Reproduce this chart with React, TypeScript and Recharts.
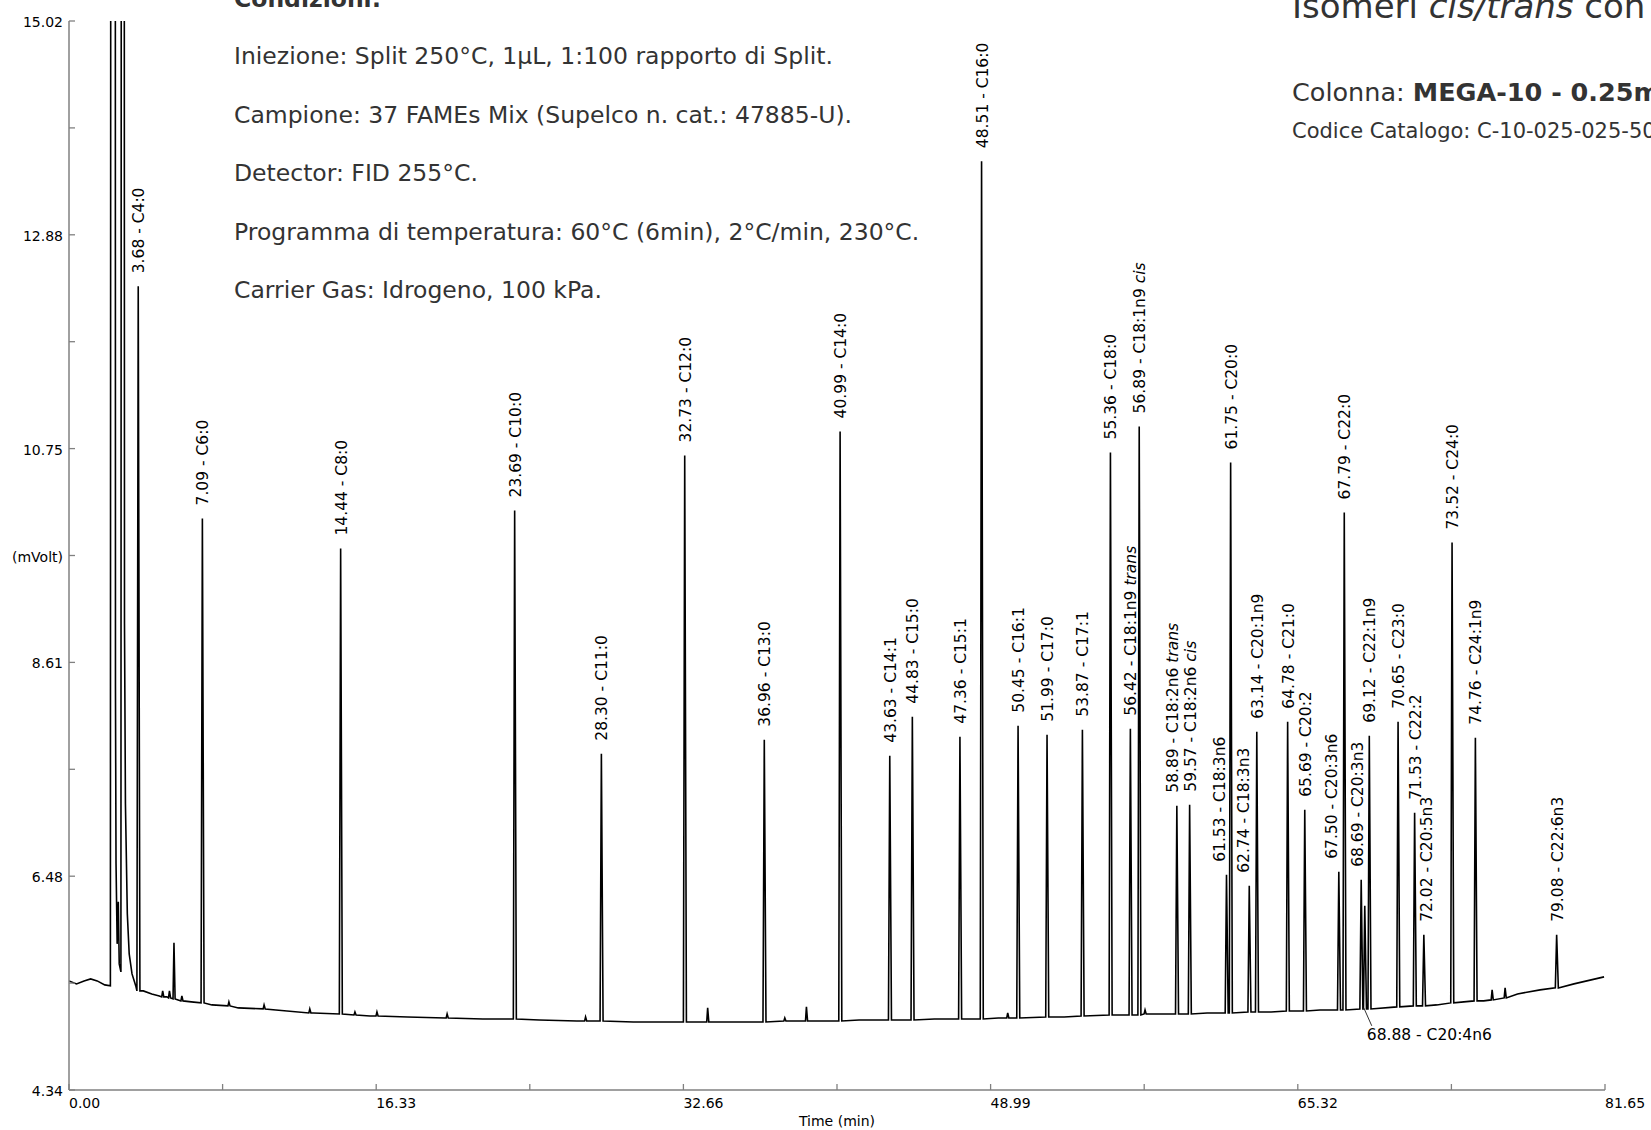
import React from 'react';
import { ComposedChart, Line, Scatter, XAxis, YAxis } from 'recharts';

const W = 1651;
const H = 1130;
const AXIS = '#808080';
const FONT = '"DejaVu Sans", Verdana, sans-serif';

// ---- axis ticks ----
const xTickValues = [0, 8.165, 16.33, 24.495, 32.66, 40.825, 48.99, 57.155, 65.32, 73.485, 81.65];
const xTickLabels = ['0.00', '', '16.33', '', '32.66', '', '48.99', '', '65.32', '', '81.65'];
const yTickValues = [4.34, 5.408, 6.476, 7.544, 8.612, 9.68, 10.748, 11.816, 12.884, 13.952, 15.02];
const yTickLabels = ['4.34', '', '6.48', '', '8.61', '(mVolt)', '10.75', '', '12.88', '', '15.02'];

// ---- solvent front region (min, mV) ----
const solventTime = [0.0, 0.4, 0.8, 1.15, 1.5, 1.9, 2.2, 2.26, 2.44, 2.47, 2.5, 2.56, 2.62, 2.67, 2.76, 2.82, 2.9, 2.95, 3.0, 3.1, 3.2, 3.35, 3.55];
const solventSignal = [5.43, 5.4, 5.43, 5.45, 5.43, 5.39, 5.38, 40, 40, 8.37, 6.6, 5.8, 6.22, 5.6, 5.52, 40, 40, 9.0, 7.2, 6.1, 5.7, 5.5, 5.38];

// ---- baseline readings (min, mV) ----
const baselineTime = [3.95, 4.4, 4.8, 5.2, 5.8, 6.5, 7.6, 9.0, 11, 13, 16, 18, 20, 22, 25, 27, 30, 34.5, 38.6, 42, 46, 49.4, 52.9, 57.8, 60.5, 63.9, 66.5, 72.7, 75.2, 77.0, 78.2, 80.0, 81.6];
const baselineSignal = [5.33, 5.3, 5.28, 5.27, 5.24, 5.22, 5.19, 5.16, 5.14, 5.11, 5.08, 5.07, 5.06, 5.05, 5.04, 5.03, 5.02, 5.02, 5.03, 5.04, 5.05, 5.06, 5.07, 5.1, 5.11, 5.12, 5.14, 5.19, 5.23, 5.3, 5.34, 5.4, 5.47];

// ---- labelled peaks ----
const peakTime = [3.68, 7.09, 14.44, 23.69, 28.30, 32.73, 36.96, 40.99, 43.63, 44.83, 47.36, 48.51, 50.45, 51.99, 53.87, 55.36, 56.42, 56.89, 58.89, 59.57, 61.53, 61.75, 62.74, 63.14, 64.78, 65.69, 67.50, 67.79, 68.69, 68.88, 69.12, 70.65, 71.53, 72.02, 73.52, 74.76, 79.08];
const peakApex = [12.37, 10.05, 9.75, 10.13, 7.70, 10.68, 7.84, 10.92, 7.68, 8.07, 7.87, 13.62, 7.98, 7.89, 7.94, 10.71, 7.95, 10.97, 7.18, 7.19, 6.49, 10.61, 6.38, 7.92, 8.02, 7.14, 6.52, 10.11, 6.44, 6.18, 7.88, 8.02, 7.11, 5.89, 9.81, 7.86, 5.89];
const peakBase = [5.33, 5.21, 5.10, 5.05, 5.03, 5.02, 5.02, 5.03, 5.04, 5.04, 5.05, 5.05, 5.06, 5.07, 5.08, 5.09, 5.09, 5.09, 5.10, 5.10, 5.11, 5.11, 5.12, 5.12, 5.13, 5.13, 5.14, 5.14, 5.15, 5.15, 5.15, 5.17, 5.18, 5.18, 5.21, 5.23, 5.36];
const peakName = ['3.68 - C4:0', '7.09 - C6:0', '14.44 - C8:0', '23.69 - C10:0', '28.30 - C11:0', '32.73 - C12:0', '36.96 - C13:0', '40.99 - C14:0', '43.63 - C14:1', '44.83 - C15:0', '47.36 - C15:1', '48.51 - C16:0', '50.45 - C16:1', '51.99 - C17:0', '53.87 - C17:1', '55.36 - C18:0', '56.42 - C18:1n9', '56.89 - C18:1n9', '58.89 - C18:2n6', '59.57 - C18:2n6', '61.53 - C18:3n6', '61.75 - C20:0', '62.74 - C18:3n3', '63.14 - C20:1n9', '64.78 - C21:0', '65.69 - C20:2', '67.50 - C20:3n6', '67.79 - C22:0', '68.69 - C20:3n3', '68.88 - C20:4n6', '69.12 - C22:1n9', '70.65 - C23:0', '71.53 - C22:2', '72.02 - C20:5n3', '73.52 - C24:0', '74.76 - C24:1n9', '79.08 - C22:6n3'];
const peakSuffix = ['', '', '', '', '', '', '', '', '', '', '', '', '', '', '', '', 'trans', 'cis', 'trans', 'cis', '', '', '', '', '', '', '', '', '', '', '', '', '', '', '', '', ''];
const peakLabelShift = [1, 1, 1, 1, 1, 1, 1, 1, 1, 1, 1, 1, 1, 1, 1, 1, 1, 1, -4, 1, -7, 1, -5, 1, 1, 1, -7, 1, -3, 0, 1, 1, 1, 3, 1, 1, 1];
const peakCallout = [false, false, false, false, false, false, false, false, false, false, false, false, false, false, false, false, false, false, false, false, false, false, false, false, false, false, false, false, false, true, false, false, false, false, false, false, false];

// ---- small unlabelled peaks ----
const minorPeakTime = [4.98, 5.34, 5.58, 6.0, 8.5, 10.37, 12.8, 15.2, 16.37, 20.1, 27.46, 33.95, 38.05, 39.2, 49.9, 57.2, 75.65, 76.34];
const minorPeakApex = [5.33, 5.33, 5.81, 5.28, 5.22, 5.19, 5.15, 5.12, 5.12, 5.1, 5.07, 5.16, 5.06, 5.17, 5.11, 5.14, 5.34, 5.36];
const minorPeakBase = [5.27, 5.26, 5.25, 5.23, 5.18, 5.15, 5.11, 5.09, 5.08, 5.06, 5.03, 5.02, 5.03, 5.03, 5.06, 5.1, 5.24, 5.26];

// ---- build the chromatogram table ----
const trace: { t: number; v: number }[] = [];
solventTime.forEach((t, i) => trace.push({ t, v: solventSignal[i] }));
baselineTime.forEach((t, i) => trace.push({ t, v: baselineSignal[i] }));
peakTime.forEach((t, i) => {
  trace.push({ t: t - 0.07, v: peakBase[i] });
  trace.push({ t, v: peakApex[i] });
  trace.push({ t: t + 0.09, v: peakBase[i] });
});
minorPeakTime.forEach((t, i) => {
  trace.push({ t: t - 0.05, v: minorPeakBase[i] });
  trace.push({ t, v: minorPeakApex[i] });
  trace.push({ t: t + 0.06, v: minorPeakBase[i] });
});
trace.sort((a, b) => a.t - b.t);

const peaks = peakTime.map((t, i) => ({
  t,
  v: peakApex[i],
  name: peakName[i],
  suffix: peakSuffix[i],
  shift: peakLabelShift[i],
  callout: peakCallout[i],
}));

const XTick = (props: any) => {
  const { x, y, payload } = props;
  const idx = xTickValues.findIndex((v) => Math.abs(v - payload.value) < 1e-6);
  const label = idx >= 0 ? xTickLabels[idx] : '';
  return (
    <g>
      <line x1={x} x2={x} y1={y} y2={y - 6} stroke={AXIS} strokeWidth={1.3} />
      {label ? (
        <text x={x} y={y + 18} textAnchor="start" fontSize={14} fontFamily={FONT} fill="#000">
          {label}
        </text>
      ) : null}
    </g>
  );
};

const YTick = (props: any) => {
  const { x, y, payload } = props;
  const idx = yTickValues.findIndex((v) => Math.abs(v - payload.value) < 1e-6);
  const label = idx >= 0 ? yTickLabels[idx] : '';
  return (
    <g>
      <line x1={x} x2={x + 6} y1={y} y2={y} stroke={AXIS} strokeWidth={1.3} />
      {label ? (
        <text x={x - 6} y={y + 6} textAnchor="end" fontSize={14} fontFamily={FONT} fill="#000">
          {label}
        </text>
      ) : null}
    </g>
  );
};

const PeakLabel = (props: any) => {
  const { cx, cy, payload } = props;
  if (cx == null || cy == null) return <g />;
  if (payload.callout) {
    return (
      <g>
        <line x1={cx - 1} y1={cy + 102} x2={cx + 7} y2={cy + 120} stroke="#333" strokeWidth={1} />
        <text x={cx + 2} y={cy + 134} fontSize={15.5} fontFamily={FONT} fill="#000">
          {payload.name}
        </text>
      </g>
    );
  }
  const lx = cx + payload.shift;
  const ly = cy - 13;
  return (
    <text
      transform={`translate(${lx},${ly}) rotate(-90)`}
      textAnchor="start"
      dominantBaseline="central"
      fontSize={15.5}
      fontFamily={FONT}
      fill="#000"
    >
      {payload.name}
      {payload.suffix ? (
        <tspan fontStyle="italic">{' ' + payload.suffix}</tspan>
      ) : null}
    </text>
  );
};

const TXT = '#333333';

export default function App() {
  return (
    <div style={{ position: 'absolute', left: 0, top: 0, width: W, height: H, background: '#fff', overflow: 'hidden' }}>
      <ComposedChart width={W} height={H} margin={{ top: 21, right: 46, bottom: 10, left: 9 }}>
        <XAxis
          type="number"
          dataKey="t"
          domain={[0, 81.65]}
          ticks={xTickValues}
          interval={0}
          allowDataOverflow
          axisLine={{ stroke: AXIS, strokeWidth: 1.5 }}
          tickLine={false}
          tickSize={0}
          tickMargin={0}
          height={30}
          tick={<XTick />}
        />
        <YAxis
          type="number"
          domain={[4.34, 15.02]}
          ticks={yTickValues}
          interval={0}
          allowDataOverflow
          axisLine={{ stroke: AXIS, strokeWidth: 1.5 }}
          tickLine={false}
          tickSize={0}
          tickMargin={0}
          width={60}
          tick={<YTick />}
        />
        <Line
          data={trace}
          dataKey="v"
          type="linear"
          stroke="#000"
          strokeWidth={1.6}
          dot={false}
          activeDot={false}
          isAnimationActive={false}
        />
        <Scatter data={peaks} dataKey="v" shape={<PeakLabel />} isAnimationActive={false} legendType="none" />
      </ComposedChart>
      <svg width={W} height={H} style={{ position: 'absolute', left: 0, top: 0, pointerEvents: 'none' }}>
        <g fontFamily={FONT} fill={TXT}>
          <text x={234} y={7} fontSize={23.5} fontWeight="bold">Condizioni:</text>
          <text x={234} y={64} fontSize={23.5}>Iniezione: Split 250°C, 1µL, 1:100 rapporto di Split.</text>
          <text x={234} y={122.5} fontSize={23.5}>Campione: 37 FAMEs Mix (Supelco n. cat.: 47885-U).</text>
          <text x={234} y={181} fontSize={23.5}>Detector: FID 255°C.</text>
          <text x={234} y={240} fontSize={23.5}>Programma di temperatura: 60°C (6min), 2°C/min, 230°C.</text>
          <text x={234} y={298} fontSize={23.5}>Carrier Gas: Idrogeno, 100 kPa.</text>
          <text x={1292} y={18} fontSize={34}>
            Isomeri <tspan fontStyle="italic">cis/trans</tspan> con
          </text>
          <text x={1292} y={101} fontSize={25.5}>
            Colonna: <tspan fontWeight="bold">MEGA-10 - 0.25m</tspan>
          </text>
          <text x={1292} y={138} fontSize={21}>Codice Catalogo: C-10-025-025-50</text>
        </g>
        <text x={837} y={1126} textAnchor="middle" fontSize={14} fontFamily={FONT} fill="#000">
          Time (min)
        </text>
      </svg>
    </div>
  );
}
